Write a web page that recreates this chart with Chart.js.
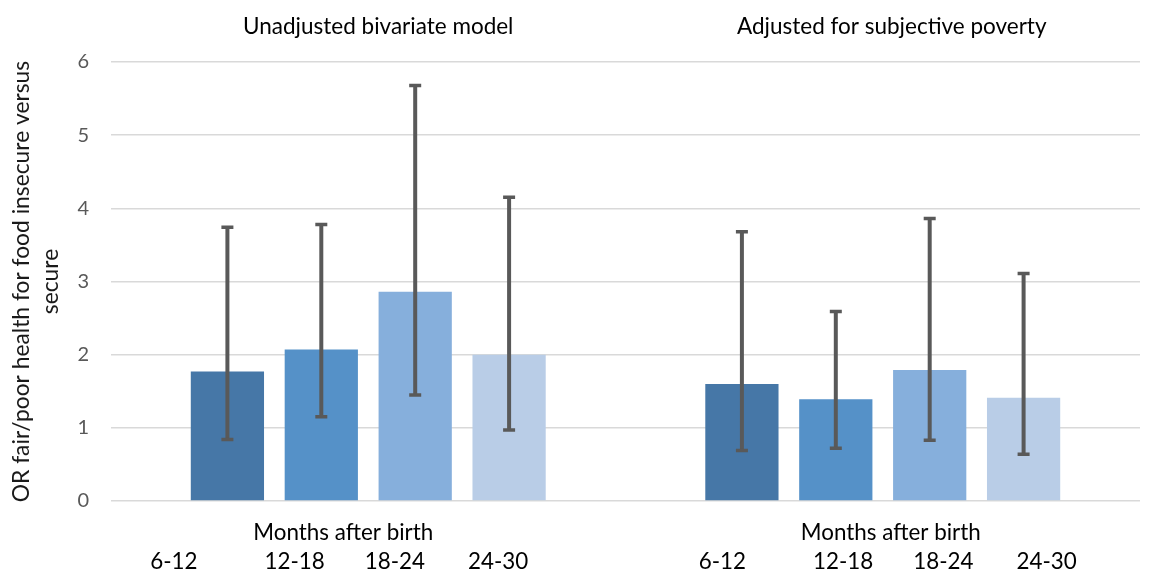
<!DOCTYPE html>
<html>
<head>
<meta charset="utf-8">
<script src="https://cdn.jsdelivr.net/npm/chart.js@4/dist/chart.umd.min.js"></script>
<style>
  html, body { margin: 0; padding: 0; background: #fff; }
  #wrap { width: 1152px; height: 579px; }
</style>
</head>
<body>
<div id="wrap"><canvas id="c" width="1152" height="579"></canvas></div>
<script>
// Model groups and follow-up periods
const groups = ['Unadjusted bivariate model', 'Adjusted for subjective poverty'];
const periods = ['6-12', '12-18', '18-24', '24-30'];
const axisCaption = 'Months after birth';
const yTitle = ['OR fair/poor health for food insecure versus', 'secure'];
const yTicks = [0, 1, 2, 3, 4, 5, 6];

// Odds ratios with 95% confidence limits, one entry per period
const unadjOR = [1.77, 2.07, 2.86, 2.00];
const unadjLo = [0.84, 1.15, 1.45, 0.97];
const unadjHi = [3.74, 3.78, 5.68, 4.15];

const adjOR = [1.60, 1.39, 1.79, 1.41];
const adjLo = [0.69, 0.72, 0.83, 0.64];
const adjHi = [3.68, 2.59, 3.86, 3.11];

const periodColors = ['#4677a7', '#5591c8', '#86afdc', '#b9cde7'];

const datasets = periods.map((p, i) => ({
  label: p,
  data: [unadjOR[i], adjOR[i]],
  lo: [unadjLo[i], adjLo[i]],
  hi: [unadjHi[i], adjHi[i]],
  backgroundColor: periodColors[i],
  borderWidth: 0,
  categoryPercentage: 0.73,
  barPercentage: 0.78
}));

const FONT = 'Lato, "Open Sans", sans-serif';

// Confidence-interval whiskers drawn over each bar
const errorBars = {
  id: 'errorBars',
  afterDatasetsDraw(chart) {
    const ctx = chart.ctx;
    const y = chart.scales.y;
    ctx.save();
    ctx.strokeStyle = '#595959';
    ctx.lineCap = 'butt';
    chart.data.datasets.forEach((ds, di) => {
      const meta = chart.getDatasetMeta(di);
      meta.data.forEach((bar, j) => {
        const x = bar.x;
        const yHi = y.getPixelForValue(ds.hi[j]);
        const yLo = y.getPixelForValue(ds.lo[j]);
        ctx.lineWidth = 4;
        ctx.beginPath();
        ctx.moveTo(x, yHi);
        ctx.lineTo(x, yLo);
        ctx.stroke();
        ctx.lineWidth = 3.5;
        ctx.beginPath();
        ctx.moveTo(x - 6, yHi); ctx.lineTo(x + 6, yHi);
        ctx.moveTo(x - 6, yLo); ctx.lineTo(x + 6, yLo);
        ctx.stroke();
      });
    });
    ctx.restore();
  }
};

// Group headings above the plot and period labels under it
const groupText = {
  id: 'groupText',
  afterDraw(chart) {
    const ctx = chart.ctx;
    const xs = chart.scales.x;
    const titleShift = [10, 9];
    const captionShift = [-25, 8];
    const periodShift = [-29, 5];
    const gaps = [67, 40, 43];
    ctx.save();
    ctx.fillStyle = '#000';
    ctx.textBaseline = 'middle';
    groups.forEach((g, i) => {
      const cx = xs.getPixelForValue(i);
      ctx.textAlign = 'center';
      ctx.font = '22.5px ' + FONT;
      ctx.fillText(g, cx + titleShift[i], 27);
      ctx.font = '22.4px ' + FONT;
      ctx.fillText(axisCaption, cx + captionShift[i], 533);
      // period labels laid out as one spaced line
      const widths = periods.map(p => ctx.measureText(p).width);
      const total = widths.reduce((a, b) => a + b, 0) + gaps.reduce((a, b) => a + b, 0);
      let x = cx + periodShift[i] - total / 2;
      ctx.textAlign = 'left';
      periods.forEach((p, k) => {
        ctx.fillText(p, x, 562);
        x += widths[k] + (gaps[k] || 0);
      });
    });
    ctx.restore();
  }
};

new Chart(document.getElementById('c'), {
  type: 'bar',
  data: { labels: groups, datasets },
  plugins: [errorBars, groupText],
  options: {
    responsive: false,
    animation: false,
    layout: { padding: { top: 62, right: 12, bottom: 78, left: 0 } },
    plugins: { legend: { display: false }, tooltip: { enabled: false } },
    scales: {
      x: { display: false },
      y: {
        min: 0,
        max: 6,
        afterFit(scale) { scale.width = 111; },
        afterBuildTicks(scale) { scale.ticks = yTicks.map(v => ({ value: v })); },
        border: { display: false },
        grid: { color: '#d9d9d9', lineWidth: 1.5, drawTicks: false },
        ticks: {
          padding: 22,
          color: '#595959',
          font: { family: FONT, size: 20 }
        },
        title: {
          display: true,
          text: yTitle,
          color: '#1a1a1a',
          font: { family: FONT, size: 22.8, lineHeight: 1.27 },
          padding: { top: 7, bottom: 0 }
        }
      }
    }
  }
});
</script>
</body>
</html>
